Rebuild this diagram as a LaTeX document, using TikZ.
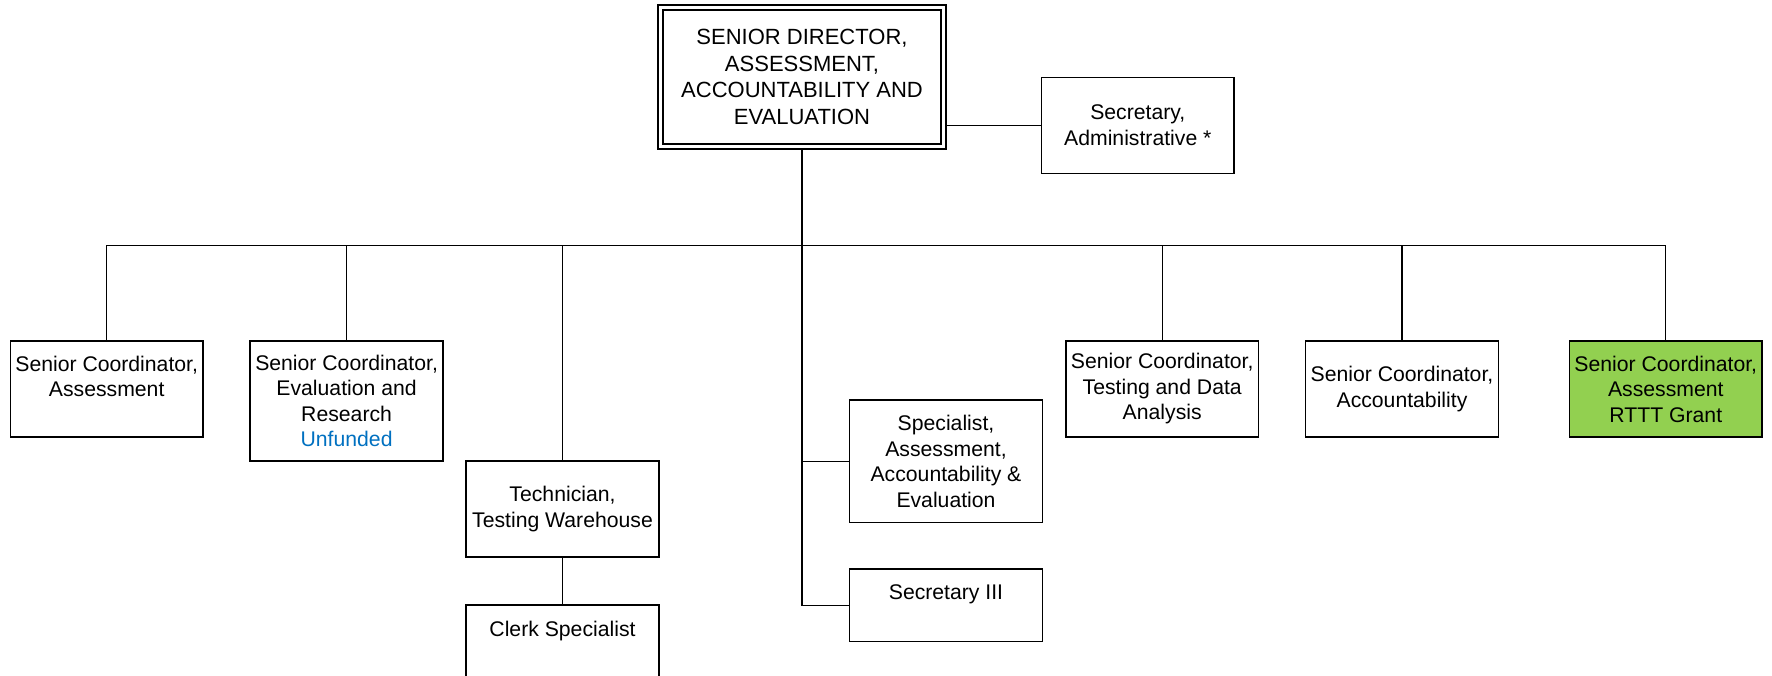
\documentclass[tikz,border=0pt]{standalone}
\usepackage{fontspec}
\setmainfont{Liberation Sans}
\usepackage{xcolor}
\usepackage{tikz}
\definecolor{grantgreen}{RGB}{146,208,80}
\definecolor{unfundedblue}{RGB}{0,112,192}

\begin{document}
\begin{tikzpicture}[x=0.5pt,y=0.5pt,yscale=-1,xscale=1,
  orgbox/.style={draw, line width=0.75pt, minimum width=96.4pt, minimum height=48pt,
    inner sep=1pt, align=center, font=\fontsize{10.6}{12.75}\selectfont},
  link/.style={line width=0.6pt}]
\useasboundingbox (0,0) rectangle (1772,675);
\clip (0,0) rectangle (1772,675);

%Shape: Double Rectangle [id:director]
\node[orgbox, double, double distance=1.75pt, minimum width=141.5pt, minimum height=69.5pt,
  font=\fontsize{11}{13.3}\selectfont] (dir) at (802,77)
  {SENIOR DIRECTOR,\\ASSESSMENT,\\ACCOUNTABILITY AND\\EVALUATION};
%Shape: Rectangle [id:secadm]
\node[orgbox] (secadm) at (1137.8,125.3) {Secretary,\\Administrative *};
%Shape: Rectangle [id:sca]
\node[orgbox] (sca) at (106.7,389) {Senior Coordinator,\\Assessment\\\mbox{}};
%Shape: Rectangle [id:scer]
\node[orgbox, minimum height=60pt] (scer) at (346.6,401)
  {Senior Coordinator,\\Evaluation and\\Research\\\textcolor{unfundedblue}{Unfunded}};
%Shape: Rectangle [id:tech]
\node[orgbox] (tech) at (562.5,509) {Technician,\\Testing Warehouse};
%Shape: Rectangle [id:clerk]
\node[orgbox, minimum height=36.5pt] (clerk) at (562.5,641.5) {Clerk Specialist\\\mbox{}};
%Shape: Rectangle [id:spec]
\node[orgbox, minimum height=61.3pt] (spec) at (946,461.3)
  {Specialist,\\Assessment,\\Accountability \&\\Evaluation};
%Shape: Rectangle [id:sec3]
\node[orgbox, minimum height=36.3pt] (sec3) at (946,605.3) {Secretary III\\\mbox{}};
%Shape: Rectangle [id:sctd]
\node[orgbox] (sctd) at (1162.2,389) {Senior Coordinator,\\Testing and Data\\Analysis};
%Shape: Rectangle [id:scacc]
\node[orgbox] (scacc) at (1402,389) {Senior Coordinator,\\Accountability};
%Shape: Rectangle [id:rttt]
\node[orgbox, fill=grantgreen] (rttt) at (1665.8,389) {Senior Coordinator,\\Assessment\\RTTT Grant};

\coordinate (bus) at (802,245.5);

%Straight Lines [id:trunk]
\draw[line width=1pt, shorten <=1.3pt] (dir.south) -- (bus);
%Straight Lines [id:secadm]
\draw[link] (secadm.west) -- ([xshift=1.3pt]secadm.west -| dir.east);
%Straight Lines [id:sca]
\draw[link] (bus) -| (sca.north);
%Straight Lines [id:scer]
\draw[link] (bus) -| (scer.north);
%Straight Lines [id:tech]
\draw[link] (bus) -| (tech.north);
%Straight Lines [id:clerk]
\draw[link] (tech.south) -- (clerk.north);
%Straight Lines [id:spec]
\draw[link] (bus) |- (spec.west);
%Straight Lines [id:sec3]
\draw[link] (bus) |- (sec3.west);
%Straight Lines [id:sctd]
\draw[link] (bus) -| (sctd.north);
%Straight Lines [id:scacc]
\draw[link] (bus) -| (scacc.north);
%Straight Lines [id:rttt]
\draw[link] (bus) -| (rttt.north);
\end{tikzpicture}
\end{document}
